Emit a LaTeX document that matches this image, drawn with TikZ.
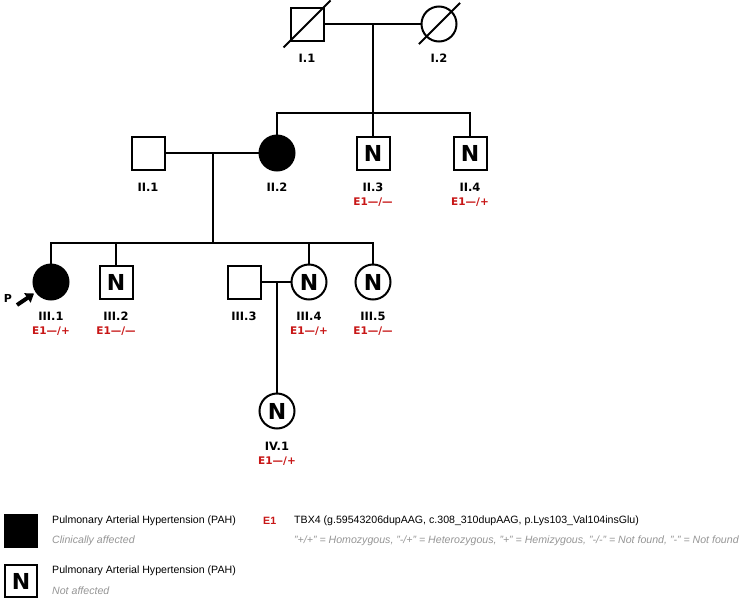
\documentclass[tikz,border=0pt]{standalone}
\usepackage{fontspec}
\setmainfont{Liberation Sans}
\newfontfamily\verd{DejaVu Sans}
\usetikzlibrary{arrows.meta,calc}
\definecolor{gred}{RGB}{200,22,22}
\definecolor{lgray}{RGB}{150,150,150}
\begin{document}
\begin{tikzpicture}[x=1pt,y=-1pt,
  male/.style={draw,line width=2pt,minimum size=33pt,inner sep=0pt,font=\verd\bfseries\fontsize{22}{22}\selectfont},
  female/.style={circle,draw,line width=2pt,minimum size=35pt,inner sep=0pt,font=\verd\bfseries\fontsize{22}{22}\selectfont},
  aff/.style={fill=black},
  idl/.style={font=\verd\bfseries\fontsize{11.5}{11.5}\selectfont,inner sep=0pt},
  gen/.style={font=\verd\bfseries\fontsize{10.5}{10.5}\selectfont,text=gred,inner sep=0pt},
  rel/.style={line width=2pt},
  slash/.style={line width=2pt},
  parrow/.style={line width=4pt,-{Triangle[length=8pt,width=11pt]},shorten >=2pt},
  legt/.style={font=\fontsize{10.6}{10.6}\selectfont,anchor=west,inner sep=0pt},
  legs/.style={font=\itshape\fontsize{10.6}{10.6}\selectfont,text=lgray,anchor=west,inner sep=0pt}]
\fill[white] (0,0) rectangle (750,600);
\useasboundingbox (0,0) rectangle (750,600);

% Generation I
\node[male] (I1) at (307,24) {};
\node[female] (I2) at (439,24) {};
\draw[slash] ($(I1.south west)+(-6,6)$) -- ($(I1.north east)+(6,-6)$);
\draw[slash] ($(I2.south west)+(-7,7)$) -- ($(I2.north east)+(8,-8)$);
\node[idl] (lI1) at (307,58) {I.1};
\node[idl] (lI2) at (439,58) {I.2};

% Generation II
\node[male] (II1) at (148,153) {};
\node[female,aff] (II2) at (277,153) {};
\node[male] (II3) at (373,153) {N};
\node[male] (II4) at (470,153) {N};
\node[idl] (lII1) at (148,187) {II.1};
\node[idl] (lII2) at (277,187) {II.2};
\node[idl] (lII3) at (373,187) {II.3};
\node[idl] (lII4) at (470,187) {II.4};
\node[gen] (gII3) at (373,202) {E1—/—};
\node[gen] (gII4) at (470,202) {E1—/+};

% Generation III
\node[female,aff] (III1) at (51,282) {};
\node[male] (III2) at (116,282) {N};
\node[male] (III3) at (244,282) {};
\node[female] (III4) at (309,282) {N};
\node[female] (III5) at (373,282) {N};
\node[idl] (lIII1) at (51,316) {III.1};
\node[idl] (lIII2) at (116,316) {III.2};
\node[idl] (lIII3) at (244,316) {III.3};
\node[idl] (lIII4) at (309,316) {III.4};
\node[idl] (lIII5) at (373,316) {III.5};
\node[gen] (gIII1) at (51,331) {E1—/+};
\node[gen] (gIII2) at (116,331) {E1—/—};
\node[gen] (gIII4) at (309,331) {E1—/+};
\node[gen] (gIII5) at (373,331) {E1—/—};

% Generation IV
\node[female] (IV1) at (277,411) {N};
\node[idl] (lIV1) at (277,446) {IV.1};
\node[gen] (gIV1) at (277,461) {E1—/+};

% Proband
\node[font=\verd\bfseries\fontsize{11}{11}\selectfont,inner sep=0pt] (P) at (8,298) {P};
\coordinate (pa) at (17,305);
\draw[parrow] (pa) -- (III1);

% Connectors
\coordinate (m1) at ($(I1)!0.5!(I2)$);
\coordinate (s2) at ($(m1)+(0,89)$);
\draw[rel] (I1) -- (I2);
\draw[rel] (m1) -- (s2);
\draw[rel] (II2.north) -- (II2.north |- s2) -- (II4.north |- s2) -- (II4.north);
\draw[rel] (II3.north) -- (II3.north |- s2);

\coordinate (m2) at ($(II1)!0.5!(II2)$);
\coordinate (s3) at ($(m2)+(0,90)$);
\draw[rel] (II1) -- (II2);
\draw[rel] (m2) -- (s3);
\draw[rel] (III1.north) -- (III1.north |- s3) -- (III5.north |- s3) -- (III5.north);
\draw[rel] (III2.north) -- (III2.north |- s3);
\draw[rel] (III4.north) -- (III4.north |- s3);

\coordinate (m3) at ($(III3)!0.5!(III4)$);
\draw[rel] (III3) -- (III4);
\draw[rel] (m3) -- (m3 |- IV1.north);

% Legend
\node[male,aff,anchor=north west,minimum size=32pt] (Laff) at (4,514) {};
\node[male,anchor=north west,minimum size=32pt] (Lna) at (4,564) {N};
\node[legt] (t1) at (52,521) {Pulmonary Arterial Hypertension (PAH)};
\node[legs] (t2) at (52,541) {Clinically affected};
\node[legt] (t3) at (52,571) {Pulmonary Arterial Hypertension (PAH)};
\node[legs] (t4) at (52,591) {Not affected};
\node[legt,text=gred,font=\bfseries\fontsize{10.6}{10.6}\selectfont] (e1) at (263,521) {E1};
\node[legt] (t5) at (294,521) {TBX4 (g.59543206dupAAG, c.308\_310dupAAG, p.Lys103\_Val104insGlu)};
\node[legs] (t6) at (294,541) {"+/+" = Homozygous, "-/+" = Heterozygous, "+" = Hemizygous, "-/-" = Not found, "-" = Not found};
\end{tikzpicture}
\end{document}
